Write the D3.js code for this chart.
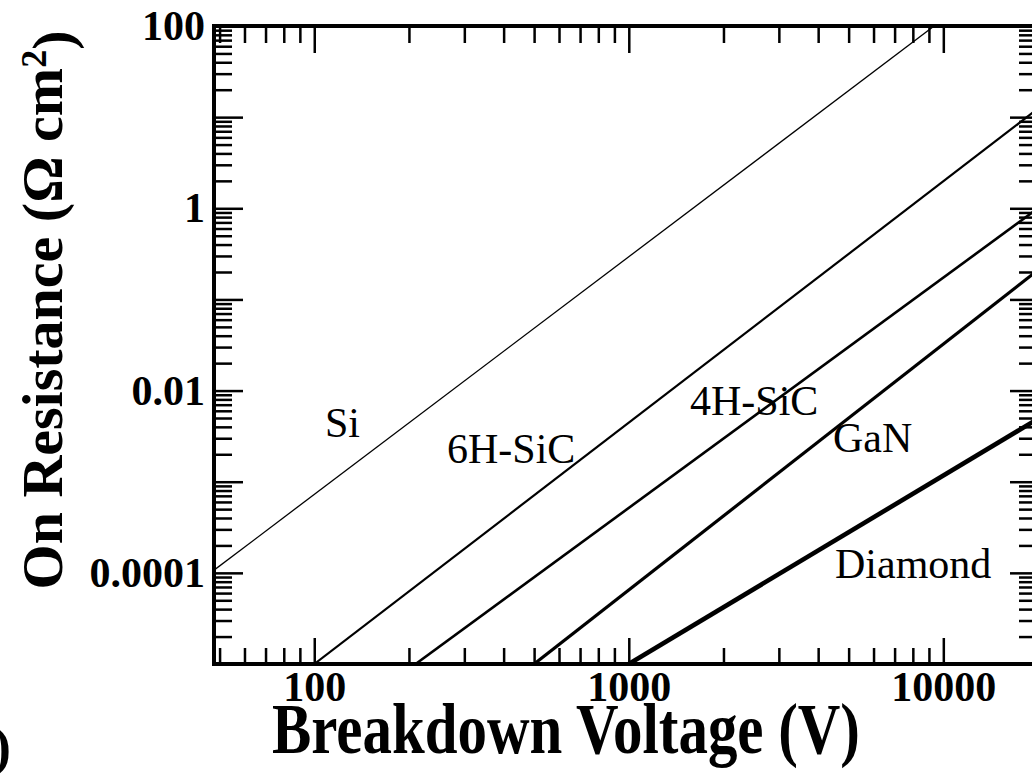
<!DOCTYPE html>
<html>
<head>
<meta charset="utf-8">
<script src="https://cdn.jsdelivr.net/npm/d3@7"></script>
<style>
  body { margin: 0; background: #fff; }
  svg { display: block; }
  text { font-family: "Liberation Serif", "Times New Roman", serif; fill: #000; }
</style>
</head>
<body>
<script>
// values
const materials = ['Si', '6H-SiC', '4H-SiC', 'GaN', 'Diamond']
const voltages = [[48, 9350], [100, 20000], [210, 20000], [500, 20000], [1000, 20000]]
const resistances = [[1.07e-4, 100], [1e-5, 12.4], [1e-5, 1.0], [1e-5, 0.21], [1e-5, 4.9e-3]]
const lineWidths = [1.3, 2.2, 2.6, 3.2, 4.6]
const labelPos = [[325, 437], [447, 463], [690, 415], [833, 452], [835, 578]]

const xTickLabels = ['100', '1000', '10000']
const yTickLabels = ['100', '1', '0.01', '0.0001']

const W = 1032, H = 776
const pLeft = 214, pRight = 1038, pTop = 26, pBottom = 664

const svg = d3.select('body')
    .append('svg')
    .attr('width', W)
    .attr('height', H)

const x = d3.scaleLog().domain([48, 20000]).range([pLeft, pRight])
const y = d3.scaleLog().domain([1e-5, 100]).range([pBottom, pTop])

const isDecade = v => Math.abs(Math.log10(v) - Math.round(Math.log10(v))) < 1e-9
const xTicks = x.ticks()
const yTicks = y.ticks()
const xMajor = xTicks.filter(isDecade), xMinor = xTicks.filter(v => !isDecade(v))
const yMajor = yTicks.filter(isDecade), yMinor = yTicks.filter(v => !isDecade(v))

const xFmt = v => xTickLabels.includes(String(Math.round(v))) ? String(Math.round(v)) : ''
const yFmt = v => yTickLabels.find(l => Math.abs(Math.log10(+l) - Math.log10(v)) < 1e-9) || ''

function styleAxis(g) {
    g.select('.domain').remove()
    g.selectAll('line').attr('stroke', '#000').attr('stroke-width', 2.5)
    g.selectAll('text')
        .style('font-family', '"Liberation Serif", "Times New Roman", serif')
        .style('font-weight', 'bold')
        .style('font-size', '42px')
        .attr('fill', '#000')
}

// bottom
svg.append('g').attr('transform', `translate(0,${pBottom})`)
    .call(d3.axisBottom(x).tickValues(xMinor).tickSize(-16).tickFormat(''))
    .call(styleAxis)
svg.append('g').attr('transform', `translate(0,${pBottom})`)
    .call(d3.axisBottom(x).tickValues(xMajor).tickSize(-26).tickPadding(7).tickFormat(xFmt))
    .call(styleAxis)

// top
svg.append('g').attr('transform', `translate(0,${pTop})`)
    .call(d3.axisTop(x).tickValues(xMinor).tickSize(-17).tickFormat(''))
    .call(styleAxis)
svg.append('g').attr('transform', `translate(0,${pTop})`)
    .call(d3.axisTop(x).tickValues(xMajor).tickSize(-27).tickFormat(''))
    .call(styleAxis)

// left
svg.append('g').attr('transform', `translate(${pLeft},0)`)
    .call(d3.axisLeft(y).tickValues(yMinor).tickSize(-18).tickFormat(''))
    .call(styleAxis)
svg.append('g').attr('transform', `translate(${pLeft},0)`)
    .call(d3.axisLeft(y).tickValues(yMajor).tickSize(-29).tickPadding(9).tickFormat(yFmt))
    .call(styleAxis)

// right
svg.append('g').attr('transform', `translate(${pRight},0)`)
    .call(d3.axisRight(y).tickValues(yMinor).tickSize(-19).tickFormat(''))
    .call(styleAxis)
svg.append('g').attr('transform', `translate(${pRight},0)`)
    .call(d3.axisRight(y).tickValues(yMajor).tickSize(-28).tickFormat(''))
    .call(styleAxis)

// lines
svg.append('clipPath').attr('id', 'plot')
    .append('rect')
    .attr('x', pLeft).attr('y', pTop)
    .attr('width', pRight - pLeft).attr('height', pBottom - pTop)

const line = d3.line().x(d => x(d[0])).y(d => y(d[1]))

svg.append('g')
    .attr('clip-path', 'url(#plot)')
    .selectAll('path')
    .data(materials)
    .enter()
    .append('path')
    .attr('d', (m, i) => line(voltages[i].map((v, j) => [v, resistances[i][j]])))
    .attr('fill', 'none')
    .attr('stroke', '#000')
    .attr('stroke-width', (m, i) => lineWidths[i])

svg.append('g')
    .selectAll('text')
    .data(materials)
    .enter()
    .append('text')
    .attr('x', (m, i) => labelPos[i][0])
    .attr('y', (m, i) => labelPos[i][1])
    .style('font-size', '42px')
    .text(m => m)

// frame
svg.append('rect')
    .attr('x', pLeft).attr('y', pTop)
    .attr('width', pRight - pLeft).attr('height', pBottom - pTop)
    .attr('fill', 'none')
    .attr('stroke', '#000')
    .attr('stroke-width', 4)

// axis titles
svg.append('text')
    .attr('x', 566)
    .attr('y', 753)
    .attr('text-anchor', 'middle')
    .attr('textLength', 588)
    .attr('lengthAdjust', 'spacingAndGlyphs')
    .style('font-size', '71px')
    .style('font-weight', 'bold')
    .text('Breakdown Voltage (V)')

const yTitle = svg.append('text')
    .attr('transform', 'translate(62,310) rotate(-90)')
    .attr('text-anchor', 'middle')
    .style('font-size', '58px')
    .style('font-weight', 'bold')
yTitle.append('tspan').text('On Resistance (\u03A9 cm')
yTitle.append('tspan').attr('dy', '-0.45em').style('font-size', '36px').text('2')
yTitle.append('tspan').attr('dy', '0.45em').text(')')

// panel tag, cut off at the left edge
svg.append('text')
    .attr('x', 11)
    .attr('y', 765)
    .attr('text-anchor', 'end')
    .style('font-size', '54px')
    .style('font-weight', 'bold')
    .text('(a)')
</script>
</body>
</html>
